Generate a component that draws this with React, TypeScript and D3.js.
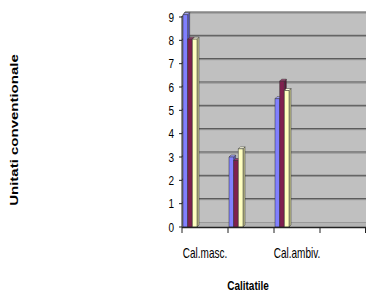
import * as d3 from "d3";
import { useEffect, useRef } from "react";

const categories = ["c1", "c2", "c3", "c4"];
const tickLabels = ["Cal.masc.", "", "Cal.ambiv.", ""];
const series = ["s1", "s2", "s3"];
const s1 = [9.1, 3.0, 5.5, 0];
const s2 = [8.05, 2.85, 6.25, 0];
const s3 = [8.05, 3.35, 5.85, 0];
const yTicks = [0, 1, 2, 3, 4, 5, 6, 7, 8, 9];

const fronts = ["#8080ff", "#80204f", "#ffffc0"];
const sides = ["#5a5ac0", "#5a1638", "#c8c890"];
const tops = ["#a8a8ff", "#a04070", "#ffffe0"];

export default function App() {
  const ref = useRef<SVGSVGElement>(null);

  useEffect(() => {
    if (!ref.current) return;
    const el = ref.current;
    d3.select(el).selectAll("*").remove();
    const svg = d3.select(el);

    const W = 366;
    const left = 182;
    const depth = { x: 3, y: -5 };
    const bd = { x: 2, y: -2 };

    const x = d3.scaleBand().domain(categories).range([left, W]);
    const xs = d3.scaleBand().domain(series).range([1, 15]);
    const y = d3.scaleLinear().domain([0, 9]).range([227, 17]);
    const vals = [s1, s2, s3];

    // back wall
    svg.append("rect")
      .attr("x", left + depth.x).attr("y", y(9) + depth.y)
      .attr("width", W - left - depth.x).attr("height", y(0) - y(9))
      .attr("fill", "#c0c0c0");
    // side wall
    svg.append("path")
      .attr("d", `M${left},${y(9)} L${left + depth.x},${y(9) + depth.y} L${left + depth.x},${y(0) + depth.y} L${left},${y(0)} Z`)
      .attr("fill", "#a8a8a8");
    // floor
    svg.append("path")
      .attr("d", `M${left},${y(0)} L${left + depth.x},${y(0) + depth.y} L${W},${y(0) + depth.y} L${W},${y(0)} Z`)
      .attr("fill", "#b4b4b4");

    // gridlines
    yTicks.slice(1).forEach(t => {
      const gy = y(t) + depth.y;
      svg.append("line")
        .attr("x1", left).attr("x2", left + depth.x)
        .attr("y1", y(t)).attr("y2", gy)
        .attr("stroke", "#555").attr("stroke-width", 1);
      svg.append("line")
        .attr("x1", left + depth.x).attr("x2", W)
        .attr("y1", gy).attr("y2", gy)
        .attr("stroke", "#4a4a4a").attr("stroke-width", 1);
      svg.append("line")
        .attr("x1", left + depth.x).attr("x2", W)
        .attr("y1", gy + 1).attr("y2", gy + 1)
        .attr("stroke", "#8a8a8a").attr("stroke-width", 1);
    });
    svg.append("line")
      .attr("x1", left + depth.x).attr("x2", W)
      .attr("y1", y(0) + depth.y + 0.5).attr("y2", y(0) + depth.y + 0.5)
      .attr("stroke", "#999");

    // bars
    categories.forEach((c, ci) => {
      series.forEach((s, si) => {
        const v = vals[si][ci];
        if (!v) return;
        const x0 = x(c)! + xs(s)!;
        const w = xs.bandwidth();
        const yv = y(v);
        const y0 = y(0);
        const g = svg.append("g").attr("stroke", "#333").attr("stroke-width", 0.5).attr("stroke-linejoin", "round");
        g.append("path")
          .attr("d", `M${x0 + w},${yv} L${x0 + w + bd.x},${yv + bd.y} L${x0 + w + bd.x},${y0 + bd.y} L${x0 + w},${y0} Z`)
          .attr("fill", sides[si]);
        g.append("path")
          .attr("d", `M${x0},${yv} L${x0 + bd.x},${yv + bd.y} L${x0 + w + bd.x},${yv + bd.y} L${x0 + w},${yv} Z`)
          .attr("fill", tops[si]);
        g.append("rect")
          .attr("x", x0).attr("y", yv).attr("width", w).attr("height", y0 - yv)
          .attr("fill", fronts[si]);
      });
    });

    // axes
    svg.append("line")
      .attr("x1", left).attr("x2", left).attr("y1", y(9) - 1).attr("y2", y(0))
      .attr("stroke", "#222");
    svg.append("line")
      .attr("x1", left).attr("x2", W).attr("y1", y(0) + 0.5).attr("y2", y(0) + 0.5)
      .attr("stroke", "#222").attr("stroke-width", 1.5);

    yTicks.forEach(t => {
      svg.append("line")
        .attr("x1", left - 3).attr("x2", left).attr("y1", y(t)).attr("y2", y(t))
        .attr("stroke", "#222");
      svg.append("text")
        .attr("transform", `translate(174,${y(t)}) scale(1,1.3)`)
        .attr("dy", "0.36em")
        .attr("text-anchor", "end")
        .attr("font-family", "Liberation Sans, Arial, sans-serif")
        .attr("font-size", 10)
        .attr("fill", "#000")
        .text(String(t));
    });

    categories.concat(["end"]).forEach((c, i) => {
      const tx = i < categories.length ? x(c)! : W - 0.5;
      svg.append("line")
        .attr("x1", tx).attr("x2", tx).attr("y1", y(0)).attr("y2", y(0) + 6)
        .attr("stroke", "#222");
    });

    categories.forEach((c, i) => {
      if (!tickLabels[i]) return;
      svg.append("text")
        .attr("transform", `translate(${x(c)! + x.bandwidth() / 2},258) scale(1,1.4)`)
        .attr("text-anchor", "middle")
        .attr("font-family", "Liberation Sans, Arial, sans-serif")
        .attr("font-size", 10)
        .attr("fill", "#000")
        .text(tickLabels[i]);
    });

    svg.append("text")
      .attr("transform", `translate(248,290) scale(1,1.25)`)
      .attr("text-anchor", "middle")
      .attr("font-family", "Liberation Sans, Arial, sans-serif")
      .attr("font-size", 10)
      .attr("font-weight", "bold")
      .text("Calitatile");

    svg.append("text")
      .attr("transform", `translate(18,130) rotate(-90) scale(1.5,1)`)
      .attr("text-anchor", "middle")
      .attr("font-family", "Liberation Sans, Arial, sans-serif")
      .attr("font-size", 10)
      .attr("font-weight", "bold")
      .text("Unitati conventionale");
  }, []);

  return (
    <svg
      ref={ref}
      width={366}
      height={293}
      style={{ position: "absolute", left: 0, top: 0, display: "block", background: "#fff" }}
    />
  );
}
